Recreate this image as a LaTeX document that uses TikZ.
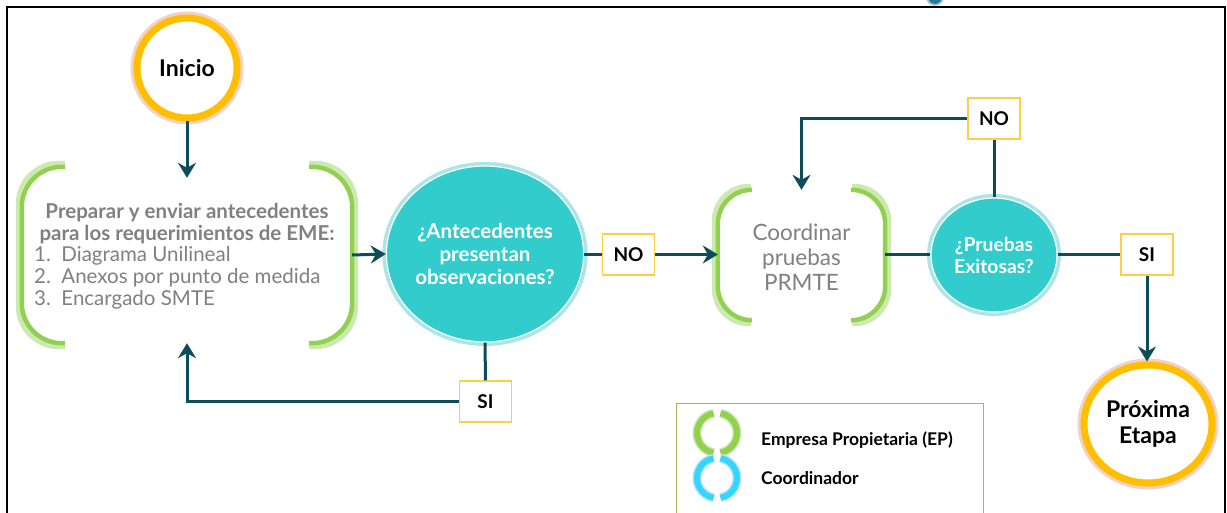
\documentclass[tikz,border=0pt]{standalone}
\usepackage{fontspec}
\setmainfont{Lato}
\usetikzlibrary{arrows.meta,shapes.geometric}
\definecolor{arrowc}{RGB}{14,76,90}
\definecolor{dteal}{RGB}{51,204,204}
\definecolor{glowcyan}{RGB}{170,230,232}
\definecolor{brkgreen}{RGB}{146,208,80}
\definecolor{brkglow}{RGB}{205,233,178}
\definecolor{ringor}{RGB}{255,190,0}
\definecolor{ringglow}{RGB}{232,180,160}
\definecolor{lblborder}{RGB}{255,205,70}
\definecolor{txtgray}{RGB}{128,128,128}
\definecolor{legborder}{RGB}{155,187,89}
\definecolor{iconblue}{RGB}{51,214,255}
\definecolor{iconblueglow}{RGB}{190,225,245}
\definecolor{topblob}{RGB}{40,120,150}
\newcommand\drawbrackets[3]{%
  \draw[line width=6pt,brkglow,rounded corners=#2] ([shift={(#3,3pt)}]#1.north west) -- ([shift={(-3pt,3pt)}]#1.north west) -- ([shift={(-3pt,-3pt)}]#1.south west) -- ([shift={(#3,-3pt)}]#1.south west);
  \draw[line width=6pt,brkglow,rounded corners=#2] ([shift={(-#3,3pt)}]#1.north east) -- ([shift={(3pt,3pt)}]#1.north east) -- ([shift={(3pt,-3pt)}]#1.south east) -- ([shift={(-#3,-3pt)}]#1.south east);
  \draw[line width=4.5pt,brkgreen,rounded corners=#2] ([xshift=#3]#1.north west) -- (#1.north west) -- (#1.south west) -- ([xshift=#3]#1.south west);
  \draw[line width=4.5pt,brkgreen,rounded corners=#2] ([xshift=-#3]#1.north east) -- (#1.north east) -- (#1.south east) -- ([xshift=-#3]#1.south east);
}
\begin{document}
\begin{tikzpicture}[x=1pt,y=-1pt,
  conn/.style={draw=arrowc, line width=3pt},
  arr/.style={conn, -{Stealth[length=15pt,width=18pt,inset=5pt]}},
  lbl/.style={draw=lblborder, line width=1.2pt, fill=white, minimum width=52pt, minimum height=41pt, font=\bfseries\fontsize{19}{22}\selectfont, inner sep=0pt},
  dec/.style={ellipse, fill=dteal, draw=white, line width=1.2pt, text=white, align=center, inner sep=0pt, preaction={draw=glowcyan, line width=8pt}},
  term/.style={circle, fill=white, draw=ringor, line width=7pt, align=center, inner sep=0pt, font=\bfseries\fontsize{23}{26}\selectfont, preaction={draw=ringglow, line width=13pt, opacity=0.6}},
  boxn/.style={rectangle, inner sep=0pt},
  legtxt/.style={anchor=west, font=\bfseries\fontsize{17.5}{20}\selectfont, inner sep=0pt}
]
\useasboundingbox (0,0) rectangle (1227,513);
\fill[white] (0,0) rectangle (1227,513);
\fill[topblob!40] (935,-3) circle (9pt);
\fill[topblob] (935,-3) circle (7pt);
\draw[line width=2pt] (6.5,530) -- (6.5,7) -- (1225,7) -- (1225,530);

% nodes
\node[term, minimum size=100pt] (inicio) at (187,68) {Inicio};
\node[boxn, minimum width=330pt, minimum height=176pt] (prep) at (187,255) {};
\node[text=txtgray, align=center, font=\bfseries\fontsize{20.5}{22}\selectfont, inner sep=0pt] (preph) at (187,224) {Preparar y enviar antecedentes\\para los requerimientos de EME:};
\node[text=txtgray, align=left, anchor=west, font=\fontsize{20.5}{22}\selectfont, inner sep=0pt] (prepl) at (34,278) {1.\ \ Diagrama Unilineal\\2.\ \ Anexos por punto de medida\\3.\ \ Encargado SMTE};
\node[dec, minimum width=182pt, minimum height=176pt, font=\bfseries\fontsize{20.5}{23}\selectfont] (ante) at (485,254) {¿Antecedentes\\presentan\\observaciones?};
\node[lbl] (no1) at (628.5,254.5) {NO};
\node[boxn, minimum width=167pt, minimum height=130pt] (coord) at (801.5,255) {};
\node[text=txtgray, align=center, font=\fontsize{22.5}{25}\selectfont, inner sep=0pt] (coordt) at (801.5,257) {Coordinar\\pruebas\\PRMTE};
\node[dec, minimum width=126pt, minimum height=114pt, font=\bfseries\fontsize{19.3}{22}\selectfont] (prue) at (994,255) {¿Pruebas\\Exitosas?};
\node[lbl] (no2) at (994,118.5) {NO};
\node[lbl] (si2) at (1147,254.5) {SI};
\node[lbl] (si1) at (485.5,401.5) {SI};
\node[term, ellipse, minimum width=128pt, minimum height=118pt] (prox) at (1148,424) {Próxima\\Etapa};

% brackets
\drawbrackets{prep}{40pt}{43pt}
\drawbrackets{coord}{34pt}{33pt}

% connectors
\draw[arr] (inicio) -- ([yshift=-11pt]prep.north);
\draw[arr] (prep.east) -- (ante.west);
\draw[conn] (ante.east |- no1) -- (no1.west);
\draw[arr] (no1.east) -- (coord.west |- no1);
\draw[conn] (coord.east) -- (prue.west);
\draw[conn] (prue.north) -- (no2.south);
\draw[arr] (no2.west) -| (coord.north);
\draw[conn] (prue.east |- si2) -- (si2.west);
\draw[arr] (si2.south) -- (si2.south |- prox.north);
\draw[conn] (ante.south) -- (si1.north);
\draw[arr] (si1.west) -| (prep.south);

% legend
\draw[legborder, line width=1pt] (676,403) rectangle (983,530);
\coordinate (ig) at (717,433);
\coordinate (ib) at (717,478);
\foreach \c/\col/\gl in {ig/brkgreen/brkglow, ib/iconblue/iconblueglow}{
  \draw[\gl, line width=9pt] (\c) ++(100:20pt) arc[start angle=100, end angle=260, radius=20pt];
  \draw[\gl, line width=9pt] (\c) ++(-80:20pt) arc[start angle=-80, end angle=80, radius=20pt];
  \draw[\col, line width=6pt] (\c) ++(100:20pt) arc[start angle=100, end angle=260, radius=20pt];
  \draw[\col, line width=6pt] (\c) ++(-80:20pt) arc[start angle=-80, end angle=80, radius=20pt];
}
\node[legtxt] (lep) at (761,440) {Empresa Propietaria (EP)};
\node[legtxt] (lco) at (761,478) {Coordinador};
\end{tikzpicture}
\end{document}
